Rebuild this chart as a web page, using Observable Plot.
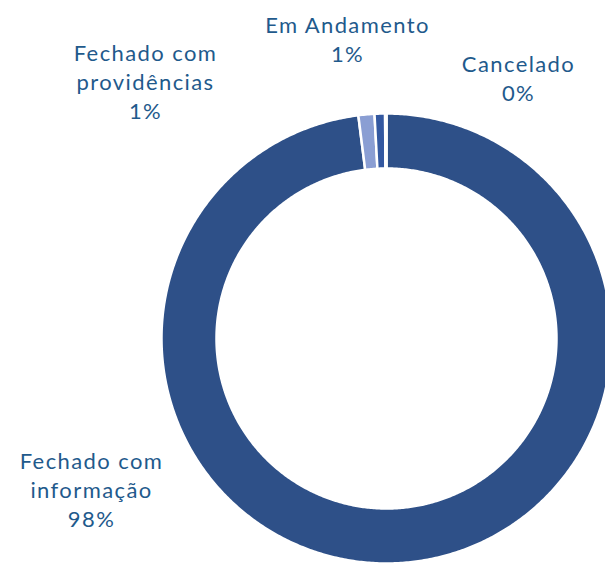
<!DOCTYPE html>
<html>
<head>
<meta charset="utf-8">
<script src="https://cdn.jsdelivr.net/npm/d3@7"></script>
<script src="https://cdn.jsdelivr.net/npm/@observablehq/plot@0.6"></script>
<style>
  html, body { margin: 0; padding: 0; background: #ffffff; overflow: hidden; }
  #chart svg text { letter-spacing: 1.4px; }
</style>
</head>
<body>
<div id="chart"></div>
<script>
// ---- data ----
const categories = ["Fechado com informação", "Fechado com providências", "Em Andamento", "Cancelado"];
const values = [98.0, 1.15, 0.75, 0.1];
const percentLabels = ["98%", "1%", "1%", "0%"];
const labelTitles = ["Fechado com\ninformação", "Fechado com\nprovidências", "Em Andamento", "Cancelado"];
const colors = ["#2E5088", "#8A9ED3", "#3358A0", "#2E5088"];
// label anchor positions (px offsets from donut centre, y up)
const labelX = [-295, -241, -39, 132];
const labelY = [-150, 258, 300, 261];

// ---- layout ----
const W = 605, H = 563;
const cx = 386, cy = 338;
const outerR = 225, innerR = 170;

const rows = categories.map((c, i) => ({key: c, value: values[i]}));
const arcs = d3.pie().sort(null).value(d => d.value)(rows);

const pts = [];
for (const a of arcs) {
  const n = Math.max(2, Math.ceil((a.endAngle - a.startAngle) / (Math.PI * 2) * 720));
  const outer = [], inner = [];
  for (let k = 0; k <= n; k++) {
    const t = a.startAngle + (a.endAngle - a.startAngle) * k / n;
    outer.push({key: a.data.key, x: outerR * Math.sin(t), y: outerR * Math.cos(t)});
    inner.push({key: a.data.key, x: innerR * Math.sin(t), y: innerR * Math.cos(t)});
  }
  pts.push(...outer, ...inner.reverse());
}

const labels = categories.map((c, i) => ({
  key: c,
  x: labelX[i],
  y: labelY[i],
  text: labelTitles[i] + "\n" + percentLabels[i]
}));

const chart = Plot.plot({
  width: W,
  height: H,
  margin: 0,
  style: {background: "#ffffff", overflow: "hidden"},
  x: {domain: [-cx, W - cx], range: [0, W], axis: null},
  y: {domain: [cy - H, cy], range: [H, 0], axis: null},
  color: {domain: categories, range: colors},
  marks: [
    Plot.line(pts, {
      x: "x", y: "y", z: "key", fill: "key",
      stroke: "#ffffff", strokeWidth: 2.5, curve: "linear-closed"
    }),
    Plot.text(labels, {
      x: "x", y: "y", text: "text",
      fill: "#1F5A8C", fontSize: 22, lineHeight: 1.32,
      textAnchor: "middle", fontFamily: "Lato", fontWeight: 400
    })
  ]
});
document.getElementById("chart").append(chart);
</script>
</body>
</html>
